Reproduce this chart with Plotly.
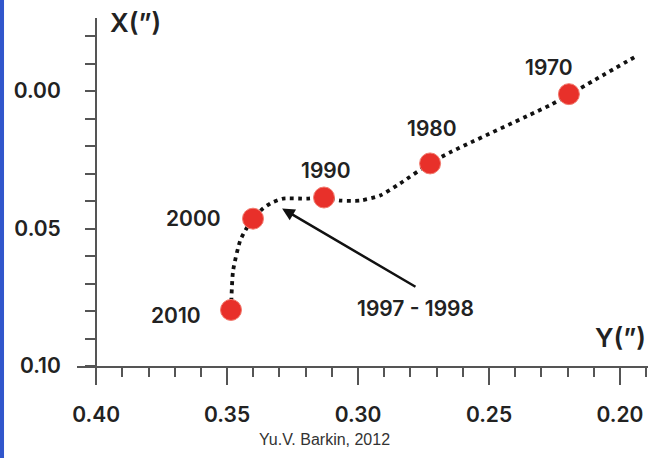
import plotly.graph_objects as go

# decades on the pole path: Y(") along x, X(") along y
years = ["1970", "1980", "1990", "2000", "2010"]
pole_y = [0.2195, 0.2725, 0.3130, 0.3401, 0.3485]
pole_x = [0.0011, 0.0263, 0.0387, 0.0464, 0.0796]

# dotted trajectory
path_y = [0.3485, 0.3477, 0.3450, 0.3424, 0.3401, 0.3363, 0.3328, 0.3286, 0.3195,
          0.3130, 0.3069, 0.2992, 0.2916, 0.2840, 0.2725, 0.2649, 0.2267, 0.2191, 0.1931]
path_x = [0.0796, 0.0653, 0.0544, 0.0496, 0.0464, 0.0427, 0.0405, 0.0391, 0.0391,
          0.0387, 0.0398, 0.0398, 0.0380, 0.0336, 0.0263, 0.0223, 0.0051, 0.0011, -0.0131]

# label offsets in pixels (dx, dy up)
label_shift = [(-20, 27), (2, 35), (2, 27), (-60, 0), (-55, -6)]

event_label = "1997 - 1998"
event_head = (0.329, 0.0427)
event_tail = (0.2775, 0.0715)
event_text = (0.2782, 0.0792)

FONT = "Inter"
INK = "#222222"
AXIS = "#555555"

fig = go.Figure()
fig.add_trace(go.Scatter(
    x=path_y, y=path_x, mode="lines",
    line=dict(color="#111111", width=3.8, dash="3.8px,4.4px", shape="spline", smoothing=0.6),
    hoverinfo="skip",
))
fig.add_trace(go.Scatter(
    x=pole_y, y=pole_x, mode="markers",
    marker=dict(size=21, color="#e8302a", line=dict(color="#f27a6e", width=1)),
    text=years, hovertemplate="%{text}<extra></extra>",
))

for yr, px_, py_, (dx, dy) in zip(years, pole_y, pole_x, label_shift):
    fig.add_annotation(x=px_, y=py_, text=yr, showarrow=False, xshift=dx, yshift=dy,
                       font=dict(family=FONT, size=21, color=INK, weight=600))

fig.add_annotation(x=event_head[0], y=event_head[1], ax=event_tail[0], ay=event_tail[1],
                   xref="x", yref="y", axref="x", ayref="y", text="", showarrow=True,
                   arrowhead=2, arrowsize=1, arrowwidth=2.5, arrowcolor="#111111")
fig.add_annotation(x=event_text[0], y=event_text[1], text=event_label, showarrow=False,
                   font=dict(family=FONT, size=21, color=INK, weight=600))

fig.add_annotation(x=0.1033, y=0.9885, xref="paper", yref="paper", text="X(”)", showarrow=False,
                   xanchor="center", yanchor="middle",
                   font=dict(family=FONT, size=26, color=INK, weight=600))
fig.add_annotation(x=0.951, y=0.0805, xref="paper", yref="paper", text="Y(”)", showarrow=False,
                   xanchor="center", yanchor="middle",
                   font=dict(family=FONT, size=26, color=INK, weight=600))
fig.add_annotation(x=0.434, y=-0.2126, xref="paper", yref="paper", text="Yu.V. Barkin, 2012",
                   showarrow=False, xanchor="center", yanchor="middle",
                   font=dict(family="Liberation Sans", size=16, color="#333333"))

# blue edge strip on the left
fig.add_shape(type="rect", xref="paper", yref="paper", x0=-0.1349, x1=-0.1278, y0=-0.27, y1=1.06,
              fillcolor="#3156cc", line_width=0, layer="below")

fig.update_layout(
    width=652, height=458,
    margin=dict(l=77, r=4, t=18, b=92),
    plot_bgcolor="white", paper_bgcolor="white",
    showlegend=False,
    font=dict(family=FONT, color=INK),
)
fig.update_xaxes(
    range=[0.4073, 0.1893], showgrid=False, zeroline=False, automargin=False,
    showline=True, linecolor=AXIS, linewidth=2,
    ticks="outside", ticklen=17, tickwidth=2, tickcolor=AXIS,
    tick0=0, dtick=0.05, tickformat=".2f", ticklabelstandoff=12,
    tickfont=dict(family=FONT, size=21, color=INK, weight=600),
    minor=dict(dtick=0.01, ticks="outside", ticklen=9, tickwidth=2, tickcolor=AXIS),
)
fig.update_yaxes(
    range=[0.10, -0.0266], showgrid=False, zeroline=False, automargin=False,
    anchor="free", position=0.0333,
    showline=True, linecolor=AXIS, linewidth=2,
    ticks="outside", ticklen=10, tickwidth=2, tickcolor=AXIS,
    tick0=0, dtick=0.05, tickformat=".2f", ticklabelstandoff=20,
    tickfont=dict(family=FONT, size=21, color=INK, weight=600),
    minor=dict(dtick=0.01, ticks="outside", ticklen=10, tickwidth=2, tickcolor=AXIS),
)

# the page body has a default 8px margin; drop it so the figure fills the window
fig.write_html("out.html", config={"displayModeBar": False},
               post_script="document.body.style.margin = '0';")
